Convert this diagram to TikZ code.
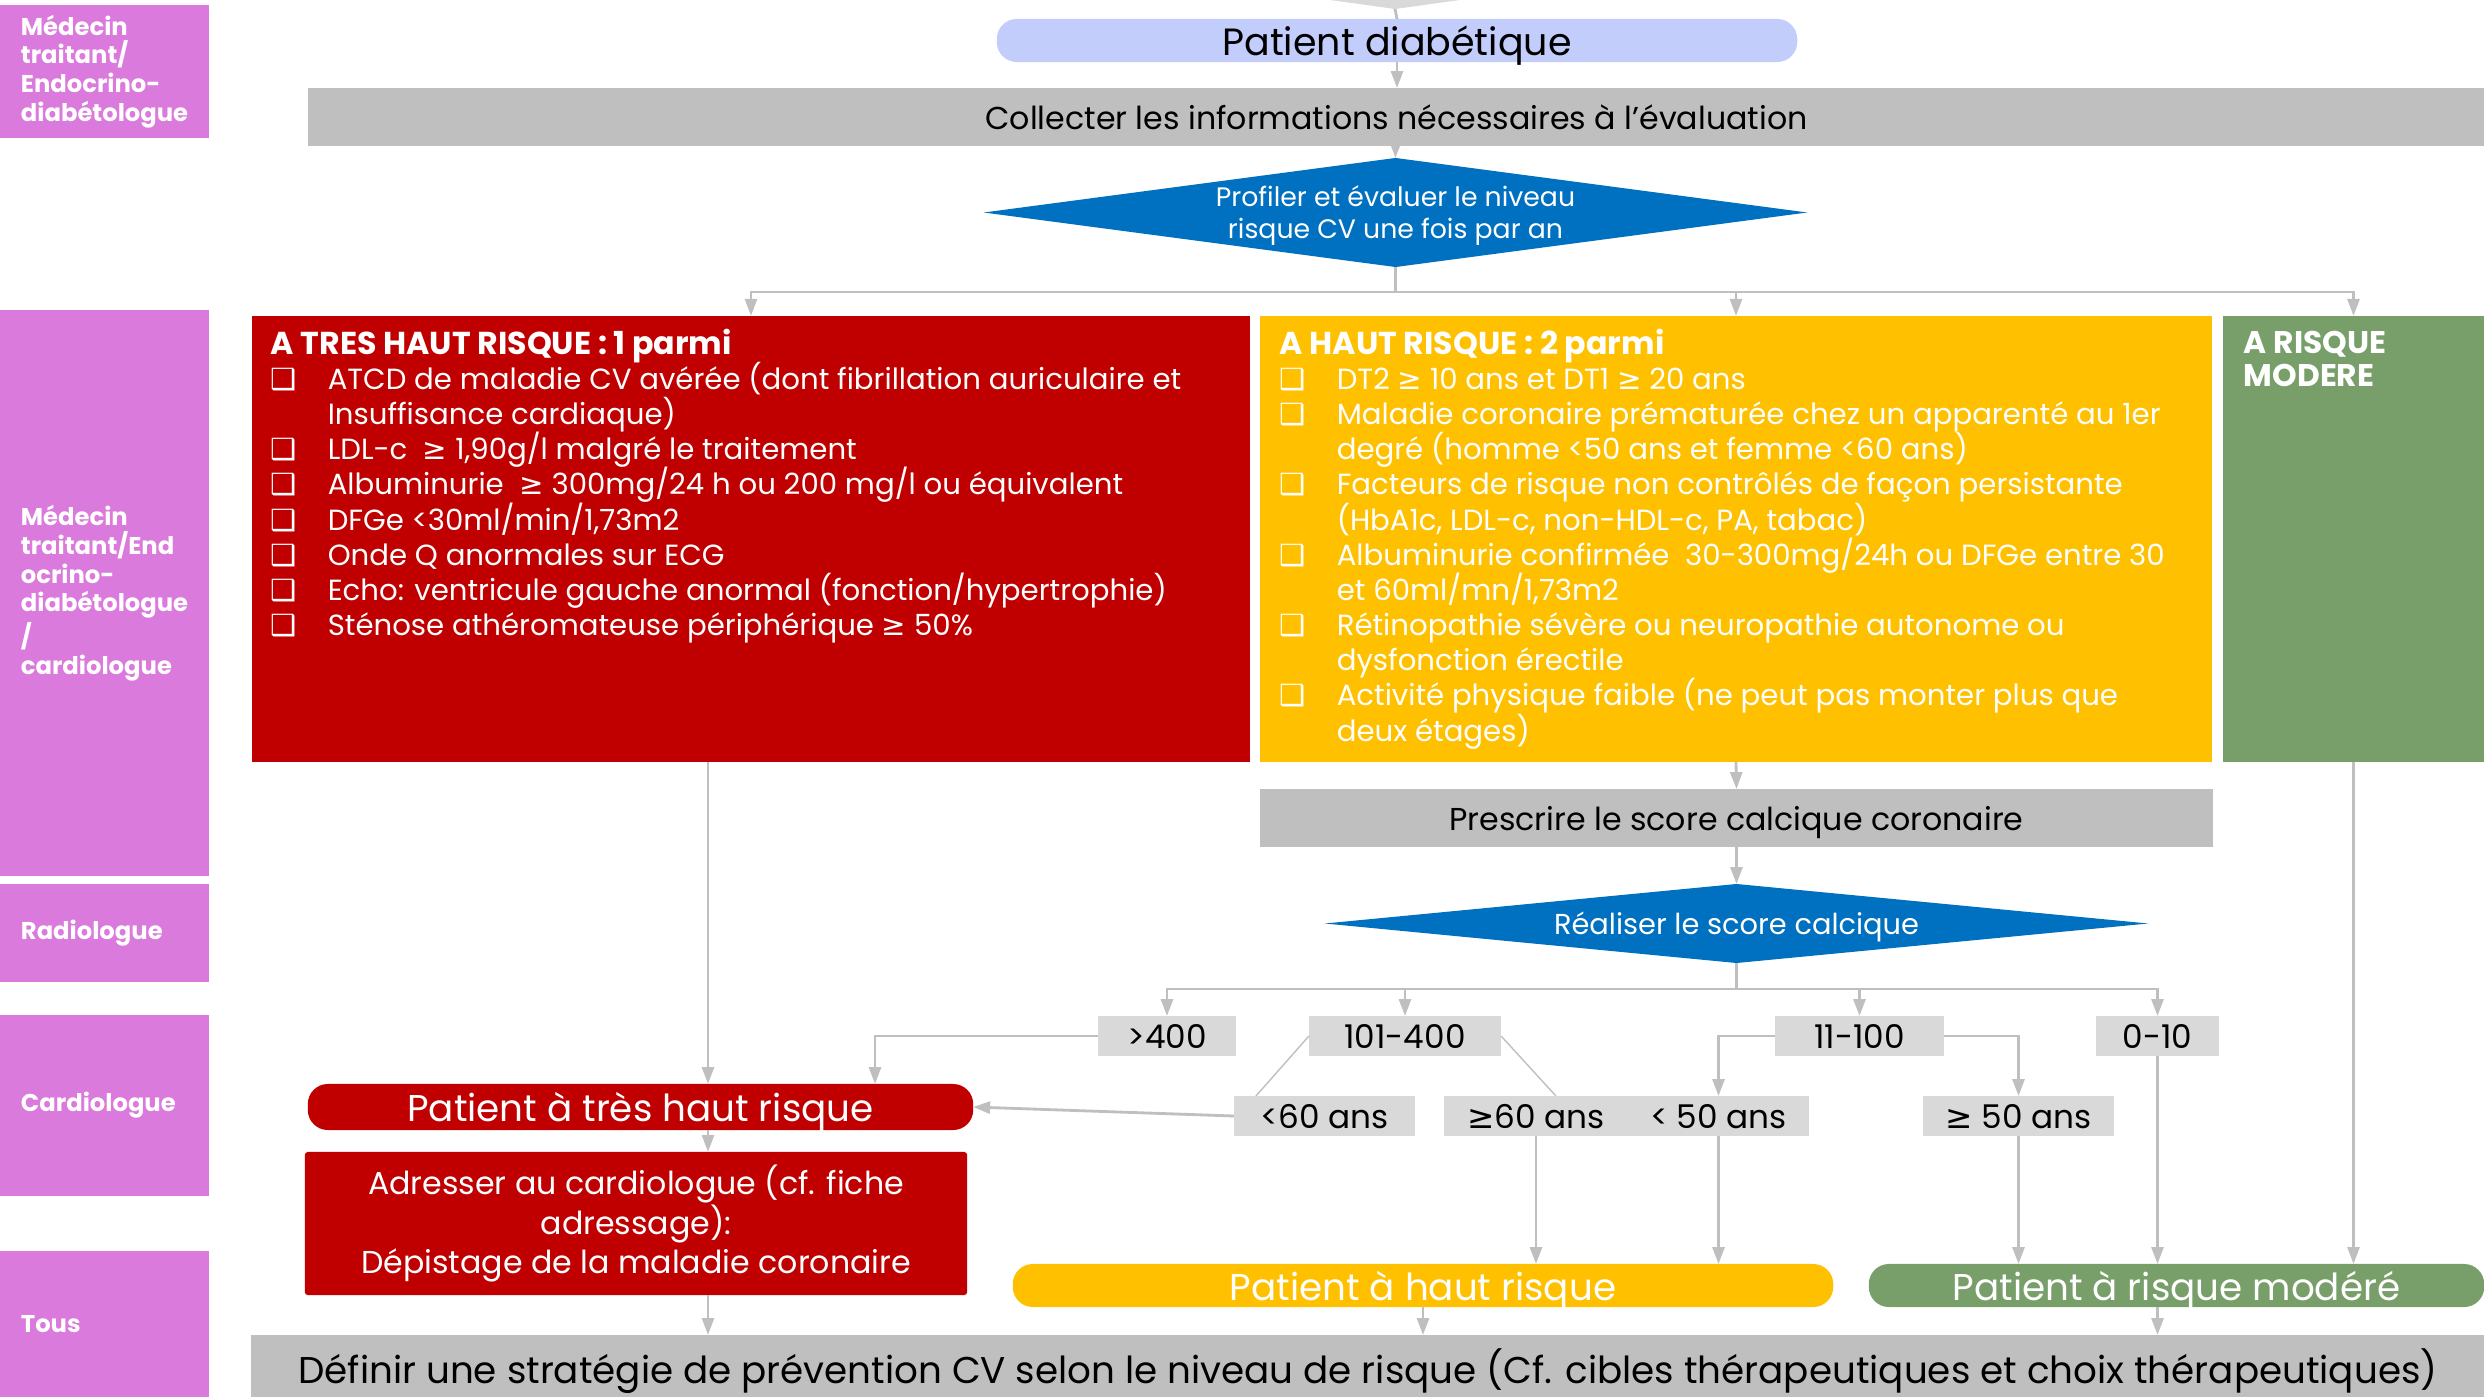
\documentclass[tikz,border=0pt]{standalone}
\usepackage{fontspec}
\setmainfont{Poppins}
\newfontfamily\dvfont{DejaVu Sans}
\usetikzlibrary{positioning}
\usetikzlibrary{shapes.geometric}
\usetikzlibrary{arrows.meta}
\usetikzlibrary{calc}

\definecolor{lanecol}{RGB}{218,122,220}
\definecolor{vhighcol}{RGB}{192,0,0}
\definecolor{highcol}{RGB}{255,192,0}
\definecolor{modcol}{RGB}{120,159,106}
\definecolor{decicol}{RGB}{0,112,192}
\definecolor{stepcol}{RGB}{191,191,191}
\definecolor{valcol}{RGB}{217,217,217}
\definecolor{startcol}{RGB}{194,205,251}
\definecolor{linecol}{RGB}{191,191,191}

\newcommand{\gsym}{{\dvfont ≥}}
\newcommand{\chk}{\makebox[0.57cm][l]{\dvfont ❑}}
\newcommand{\cont}{\hspace*{0.57cm}}
\newcommand{\listheadfont}{\fontsize{9}{10}\selectfont\bfseries}
\setlength{\lineskiplimit}{-20pt}

\tikzset{
  flow/.style={draw=linecol, line width=0.8pt},
  arr/.style={flow, -{Triangle[width=3.4pt,length=4.8pt]}},
  lane/.style={fill=lanecol, text=white, align=left, font=\fontsize{6.9}{8.2}\selectfont\bfseries,
    inner xsep=0.21cm, text width=1.67cm, minimum width=2.09cm},
  stepbox/.style={fill=stepcol, font=\fontsize{9}{11}\selectfont, minimum height=0.58cm, text depth=0pt},
  valbox/.style={fill=valcol, font=\fontsize{9.3}{11}\selectfont, minimum height=0.40cm, text depth=0pt},
  decision/.style={diamond, aspect=7.5, fill=decicol, text=white, align=center},
  riskbox/.style={minimum height=4.46cm},
  listtext/.style={text=white, align=left, font=\fontsize{8.3}{10}\selectfont},
  patbox/.style={rounded corners=0.2cm, text=white, font=\fontsize{10.6}{12}\selectfont, text depth=0pt}
}

\begin{document}
\begin{tikzpicture}[x=0.01cm, y=-0.01cm, every node/.style={inner sep=0pt, outer sep=0pt}]
  \useasboundingbox (0,0) rectangle (2484,1397);

  % lanes
  \node[lane, minimum height=1.33cm] (lane1) at (104.5,71.5) {Médecin\\traitant/\\Endocrino-\\diabétologue};
  \node[lane, minimum height=5.66cm] (lane2) at (104.5,593) {Médecin\\traitant/End\\ocrino-\\diabétologue\\/\\cardiologue};
  \node[lane, minimum height=0.98cm] (lane3) at (104.5,933) {Radiologue};
  \node[lane, minimum height=1.81cm] (lane4) at (104.5,1105.5) {Cardiologue};
  \node[lane, minimum height=1.46cm] (lane5) at (104.5,1324) {Tous};

  % top of the flow
  \fill[valcol] (1330,0) -- (1460,0) -- (1395,9) -- cycle;
  \coordinate (topin) at (1395,9);
  \node[fill=startcol, rounded corners=0.2cm, minimum width=8cm, minimum height=0.43cm, text depth=0pt,
    font=\fontsize{10.8}{12}\selectfont] (pdiab) at (1397,40.5) {Patient diabétique};
  \node[stepbox, minimum width=21.75cm] (collect) at (1396.5,117) {Collecter les informations nécessaires à l’évaluation};
  \node[decision, minimum width=8.23cm, minimum height=1.09cm, font=\fontsize{7.6}{9.1}\selectfont, text depth=0pt]
    (diam1) at (1395.5,212.5) {Profiler et évaluer le niveau\\risque CV une fois par an};

  \draw[flow] (topin) -- (pdiab.north);
  \draw[arr] (pdiab.south) -- (pdiab.south |- collect.north);
  \draw[arr] (collect.south -| diam1.north) -- (diam1.north);

  % risk boxes
  \node[riskbox, fill=vhighcol, minimum width=9.98cm] (vhigh) at (751,539) {};
  \node[riskbox, fill=highcol, minimum width=9.52cm] (high) at (1736,539) {};
  \node[riskbox, fill=modcol, minimum width=2.61cm] (moderate) at (2353.5,539) {};

  \node[listtext, below right=0.13cm and 0.19cm of vhigh.north west] (vhightxt) {%
    {\listheadfont A TRES HAUT RISQUE : 1 parmi}\\
    \chk ATCD de maladie CV avérée (dont fibrillation auriculaire et\\
    \cont Insuffisance cardiaque)\\
    \chk LDL-c \ \gsym\ 1,90g/l malgré le traitement\\
    \chk Albuminurie \ \gsym\ 300mg/24 h ou 200 mg/l ou équivalent\\
    \chk DFGe <30ml/min/1,73m2\\
    \chk Onde Q anormales sur ECG\\
    \chk Echo: ventricule gauche anormal (fonction/hypertrophie)\\
    \chk Sténose athéromateuse périphérique \gsym\ 50\%};
  \node[listtext, below right=0.13cm and 0.20cm of high.north west] (hightxt) {%
    {\listheadfont A HAUT RISQUE : 2 parmi}\\
    \chk DT2 \gsym\ 10 ans et DT1 \gsym\ 20 ans\\
    \chk Maladie coronaire prématurée chez un apparenté au 1er\\
    \cont degré (homme <50 ans et femme <60 ans)\\
    \chk Facteurs de risque non contrôlés de façon persistante\\
    \cont (HbA1c, LDL-c, non-HDL-c, PA, tabac)\\
    \chk Albuminurie confirmée \ 30-300mg/24h ou DFGe entre 30\\
    \cont et 60ml/mn/1,73m2\\
    \chk Rétinopathie sévère ou neuropathie autonome ou\\
    \cont dysfonction érectile\\
    \chk Activité physique faible (ne peut pas monter plus que\\
    \cont deux étages)};
  \node[listtext, below right=0.15cm and 0.21cm of moderate.north west, font=\fontsize{8.9}{9.4}\selectfont\bfseries]
    (modtxt) {A RISQUE\\MODERE};

  \draw[flow] (diam1.south) -- ++(0,25) coordinate (split1);
  \foreach \t in {vhigh,high,moderate}
    \draw[arr] (split1) -| (\t.north);

  % calcium score
  \node[stepbox, minimum width=9.53cm] (presc) at (1736.5,818) {Prescrire le score calcique coronaire};
  \node[decision, minimum width=8.23cm, minimum height=0.79cm, font=\fontsize{8.2}{10}\selectfont, text depth=0pt]
    (diam2) at (1736.5,923.5) {Réaliser le score calcique};
  \draw[arr] (high.south) -- (presc.north);
  \draw[arr] (presc.south) -- (diam2.north);

  \node[valbox, minimum width=1.38cm] (s400) at (1167,1036) {>400};
  \node[valbox, minimum width=1.92cm] (s101) at (1405,1036) {101-400};
  \node[valbox, minimum width=1.69cm] (s11) at (1859.5,1036) {11-100};
  \node[valbox, minimum width=1.23cm] (s0) at (2157.5,1036) {0-10};

  \draw[flow] (diam2.south) -- ++(0,26) coordinate (split2);
  \foreach \t in {s400,s101,s11,s0}
    \draw[arr] (split2) -| (\t.north);

  % age
  \node[valbox, minimum width=1.81cm] (a60lt) at (1324.5,1116) {<60 ans};
  \node[valbox, minimum width=1.84cm] (a60ge) at (1536,1116) {\gsym60 ans};
  \node[valbox, minimum width=1.81cm] (a50lt) at (1718.5,1116) {< 50 ans};
  \node[valbox, minimum width=1.91cm] (a50ge) at (2018.5,1116) {\gsym\ 50 ans};

  % outcomes
  \node[patbox, fill=vhighcol, minimum width=6.65cm, minimum height=0.46cm] (pvhigh) at (640.5,1107) {Patient à très haut risque};
  \node[fill=vhighcol, rounded corners=0.03cm, text=white, align=center, minimum width=6.62cm, minimum height=1.43cm,
    font=\fontsize{9}{11.2}\selectfont] (refer) at (636,1223.5) {Adresser au cardiologue (cf. fiche\\adressage):\\Dépistage de la maladie coronaire};
  \node[patbox, fill=highcol, minimum width=8.2cm, minimum height=0.43cm] (phigh) at (1423,1285.5) {Patient à haut risque};
  \node[patbox, fill=modcol, minimum width=6.15cm, minimum height=0.43cm] (pmod) at (2176.5,1285.5) {Patient à risque modéré};
  \node[stepbox, minimum width=22.32cm, minimum height=0.62cm, font=\fontsize{10.6}{12}\selectfont]
    (define) at (1368,1366) {Définir une stratégie de prévention CV selon le niveau de risque (Cf. cibles thérapeutiques et choix thérapeutiques)};

  \coordinate (vx) at (708,0);
  \coordinate (gx) at (875,0);
  \draw[arr] (vhigh.south -| vx) -- (pvhigh.north -| vx);
  \draw[arr] (s400.west) -| (pvhigh.north -| gx);
  \draw[arr] (a60lt.west) -- (pvhigh.east);
  \draw[arr] (pvhigh.south -| vx) -- (refer.north -| vx);
  \draw[arr] (refer.south -| vx) -- (define.north -| vx);

  \draw[flow, line width=0.4pt] (s101.west) -- ($(a60lt.north west)+(22,0)$);
  \draw[flow, line width=0.4pt] (s101.east) -- ($(a60ge.north west)+(112,0)$);
  \draw[arr] (s11.west) -| (a50lt.north);
  \draw[arr] (s11.east) -| (a50ge.north);

  \draw[arr] (a60ge.south) -- (a60ge.south |- phigh.north);
  \draw[arr] (a50lt.south) -- (a50lt.south |- phigh.north);
  \draw[arr] (a50ge.south) -- (a50ge.south |- pmod.north);
  \draw[arr] (s0.south) -- (s0.south |- pmod.north);
  \draw[arr] (moderate.south) -- (moderate.south |- pmod.north);
  \draw[arr] (phigh.south) -- (phigh.south |- define.north);
  \draw[arr] (pmod.south -| s0.south) -- (define.north -| s0.south);
\end{tikzpicture}
\end{document}
